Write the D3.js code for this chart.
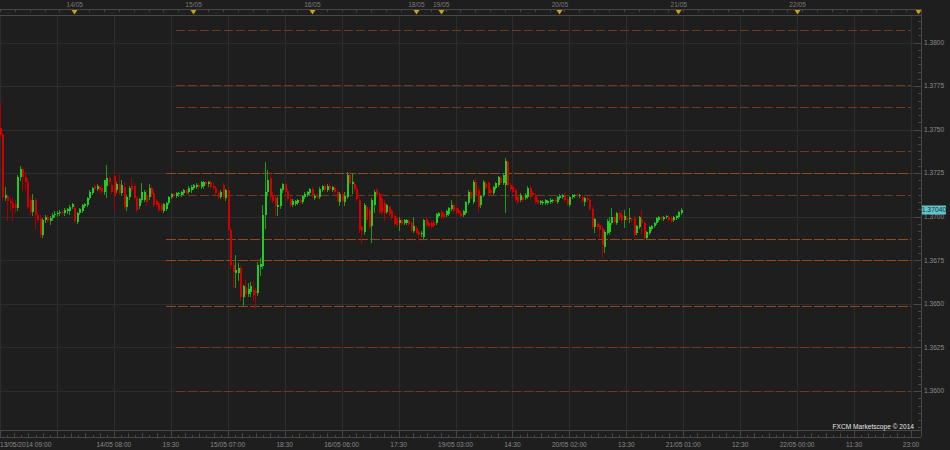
<!DOCTYPE html>
<html>
<head>
<meta charset="utf-8">
<script src="https://cdn.jsdelivr.net/npm/d3@7"></script>
<style>
  html, body { margin: 0; padding: 0; background: #1e1e1e; overflow: hidden; }
  svg { display: block; }
  text { font-family: "Liberation Sans", Arial, sans-serif; }
</style>
</head>
<body>
<svg id="chart" width="950" height="450"></svg>
<script>
// EUR/USD 30 min candles, 13/05/2014 09:00 -> 21/05/2014 01:00
const open = [
  1.37509,1.37469,1.37107,1.37119,1.37090,1.37079,1.37073,1.37050,1.37228,1.37274,
  1.37228,1.37199,1.37096,1.37027,1.37096,1.37010,1.36987,1.36895,1.36981,1.36998,
  1.36975,1.36993,1.37010,1.37015,1.37021,1.37027,1.37021,1.37033,1.37033,1.37056,
  1.37050,1.36970,1.37021,1.37033,1.37061,1.37067,1.37107,1.37136,1.37176,1.37159,
  1.37170,1.37165,1.37142,1.37176,1.37222,1.37182,1.37234,1.37153,1.37188,1.37136,
  1.37170,1.37056,1.37113,1.37176,1.37176,1.37107,1.37061,1.37096,1.37096,1.37125,
  1.37113,1.37165,1.37136,1.37090,1.37079,1.37067,1.37033,1.37044,1.37079,1.37113,
  1.37130,1.37119,1.37130,1.37125,1.37136,1.37153,1.37142,1.37153,1.37165,1.37170,
  1.37182,1.37170,1.37176,1.37199,1.37188,1.37199,1.37176,1.37165,1.37136,1.37113,
  1.37182,1.37107,1.37153,1.36924,1.36723,1.36677,1.36677,1.36706,1.36539,1.36596,
  1.36556,1.36568,1.36579,1.36574,1.36562,1.36711,1.36717,1.37010,1.37142,1.37222,
  1.37125,1.37107,1.37056,1.37061,1.37153,1.37188,1.37148,1.37102,1.37067,1.37073,
  1.37079,1.37096,1.37084,1.37113,1.37125,1.37136,1.37159,1.37107,1.37125,1.37113,
  1.37153,1.37176,1.37153,1.37176,1.37153,1.37165,1.37142,1.37084,1.37130,1.37084,
  1.37113,1.37239,1.37188,1.37188,1.37159,1.37096,1.36941,1.36912,1.37056,1.37038,
  1.36947,1.37067,1.37153,1.37130,1.37107,1.37079,1.37027,1.37056,1.37033,1.37004,
  1.36993,1.36964,1.36981,1.36964,1.36964,1.36975,1.36964,1.36918,1.36935,1.36912,
  1.36901,1.36883,1.36987,1.36964,1.36964,1.36970,1.36964,1.37004,1.37027,1.37015,
  1.37010,1.37015,1.37044,1.37067,1.37050,1.37038,1.37021,1.37010,1.37021,1.37079,
  1.37142,1.37084,1.37199,1.37153,1.37067,1.37125,1.37193,1.37193,1.37153,1.37136,
  1.37165,1.37182,1.37222,1.37193,1.37182,1.37314,1.37182,1.37170,1.37153,1.37113,
  1.37096,1.37113,1.37107,1.37113,1.37165,1.37136,1.37125,1.37096,1.37079,1.37079,
  1.37079,1.37079,1.37084,1.37090,1.37096,1.37084,1.37107,1.37113,1.37125,1.37102,
  1.37067,1.37113,1.37119,1.37125,1.37119,1.37113,1.37084,1.37107,1.37096,1.37044,
  1.36941,1.36958,1.36952,1.36935,1.36826,1.36906,1.36912,1.36964,1.36998,1.36964,
  1.37021,1.37010,1.36981,1.36998,1.36987,1.36987,1.36993,1.36906,1.36941,1.36987,
  1.36964,1.36878,1.36906,1.36929,1.36947,1.36964,1.36981,1.36998,1.36987,1.36998,
  1.36998,1.36993,1.36981,1.36993,1.36998,1.37021
];
const high = [
  1.37653,1.37480,1.37170,1.37136,1.37107,1.37107,1.37096,1.37239,1.37291,1.37285,
  1.37257,1.37222,1.37119,1.37130,1.37107,1.37027,1.37010,1.36993,1.37010,1.37010,
  1.37004,1.37021,1.37033,1.37033,1.37038,1.37038,1.37050,1.37050,1.37067,1.37079,
  1.37067,1.37027,1.37050,1.37073,1.37079,1.37113,1.37153,1.37170,1.37188,1.37188,
  1.37182,1.37182,1.37211,1.37297,1.37234,1.37199,1.37257,1.37199,1.37239,1.37211,
  1.37199,1.37125,1.37176,1.37222,1.37193,1.37119,1.37107,1.37193,1.37153,1.37153,
  1.37188,1.37182,1.37153,1.37102,1.37090,1.37079,1.37079,1.37084,1.37119,1.37136,
  1.37136,1.37142,1.37142,1.37148,1.37159,1.37159,1.37176,1.37182,1.37188,1.37193,
  1.37193,1.37205,1.37205,1.37205,1.37205,1.37211,1.37193,1.37176,1.37148,1.37153,
  1.37193,1.37159,1.37165,1.36935,1.36740,1.36780,1.36734,1.36723,1.36608,1.36637,
  1.36619,1.36625,1.36631,1.36591,1.36740,1.36763,1.37067,1.37314,1.37268,1.37257,
  1.37142,1.37125,1.37113,1.37165,1.37193,1.37199,1.37165,1.37119,1.37102,1.37096,
  1.37102,1.37107,1.37125,1.37142,1.37148,1.37165,1.37170,1.37130,1.37136,1.37170,
  1.37182,1.37188,1.37188,1.37193,1.37176,1.37182,1.37153,1.37142,1.37153,1.37142,
  1.37257,1.37251,1.37251,1.37205,1.37176,1.37113,1.36952,1.37079,1.37067,1.37056,
  1.37107,1.37153,1.37165,1.37142,1.37136,1.37096,1.37073,1.37067,1.37044,1.37015,
  1.37004,1.36998,1.36993,1.36987,1.36987,1.36987,1.36975,1.36998,1.36947,1.36924,
  1.36918,1.36987,1.36998,1.36975,1.36975,1.36981,1.37021,1.37027,1.37038,1.37027,
  1.37038,1.37056,1.37096,1.37079,1.37061,1.37050,1.37033,1.37038,1.37090,1.37153,
  1.37153,1.37211,1.37222,1.37170,1.37125,1.37211,1.37205,1.37205,1.37165,1.37176,
  1.37199,1.37234,1.37234,1.37251,1.37337,1.37325,1.37193,1.37182,1.37165,1.37125,
  1.37136,1.37125,1.37136,1.37176,1.37176,1.37148,1.37136,1.37107,1.37096,1.37096,
  1.37102,1.37096,1.37107,1.37102,1.37107,1.37119,1.37130,1.37130,1.37136,1.37113,
  1.37119,1.37130,1.37130,1.37136,1.37130,1.37125,1.37113,1.37119,1.37107,1.37056,
  1.36993,1.36970,1.36964,1.36947,1.36924,1.36987,1.36998,1.37050,1.37010,1.37027,
  1.37033,1.37038,1.37038,1.37010,1.37050,1.36998,1.37004,1.36952,1.37004,1.37038,
  1.36975,1.36918,1.36947,1.36952,1.36970,1.36998,1.37004,1.37004,1.37004,1.37010,
  1.37010,1.37004,1.37004,1.37010,1.37033,1.37050
];
const low = [
  1.37457,1.37096,1.37096,1.36981,1.37038,1.36981,1.37027,1.37038,1.37211,1.37153,
  1.37153,1.37050,1.37015,1.37010,1.36935,1.36970,1.36883,1.36883,1.36970,1.36970,
  1.36958,1.36981,1.36998,1.37004,1.37010,1.37015,1.37010,1.37021,1.37015,1.37050,
  1.36970,1.36964,1.37015,1.37027,1.37056,1.37061,1.37102,1.37130,1.37153,1.37153,
  1.37142,1.37136,1.37130,1.37113,1.37188,1.37136,1.37038,1.37142,1.37130,1.37125,
  1.37050,1.37038,1.37102,1.37148,1.37102,1.37033,1.37050,1.37084,1.37090,1.37067,
  1.37102,1.37119,1.37061,1.37061,1.37033,1.37033,1.37027,1.37038,1.37073,1.37107,
  1.37113,1.37113,1.37119,1.37119,1.37130,1.37130,1.37136,1.37142,1.37159,1.37165,
  1.37165,1.37165,1.37165,1.37182,1.37176,1.37165,1.37159,1.37130,1.37107,1.37107,
  1.37107,1.37096,1.36918,1.36706,1.36596,1.36596,1.36637,1.36522,1.36493,1.36539,
  1.36545,1.36545,1.36522,1.36476,1.36551,1.36665,1.36706,1.36935,1.37125,1.37096,
  1.37084,1.37010,1.37010,1.37050,1.37142,1.37136,1.37096,1.37061,1.37061,1.37067,
  1.37073,1.37079,1.37079,1.37107,1.37119,1.37130,1.37113,1.37102,1.37107,1.37107,
  1.37148,1.37148,1.37148,1.37153,1.37148,1.37136,1.37084,1.37067,1.37084,1.37067,
  1.37107,1.37188,1.37136,1.37148,1.37096,1.36912,1.36849,1.36901,1.36970,1.36935,
  1.36855,1.37027,1.37119,1.37021,1.37015,1.36981,1.37021,1.37010,1.36987,1.36952,
  1.36947,1.36924,1.36952,1.36958,1.36958,1.36952,1.36918,1.36912,1.36901,1.36866,
  1.36889,1.36878,1.36947,1.36941,1.36935,1.36941,1.36958,1.36998,1.36993,1.36993,
  1.37004,1.37010,1.37038,1.37027,1.37015,1.37015,1.36998,1.37004,1.37015,1.37073,
  1.37102,1.37079,1.37119,1.37027,1.37056,1.37119,1.37159,1.37130,1.37130,1.37130,
  1.37159,1.37176,1.37188,1.37188,1.37027,1.37176,1.37153,1.37136,1.37090,1.37079,
  1.37090,1.37090,1.37102,1.37107,1.37107,1.37119,1.37079,1.37073,1.37073,1.37073,
  1.37073,1.37073,1.37079,1.37084,1.37084,1.37079,1.37102,1.37107,1.37090,1.37067,
  1.37061,1.37107,1.37113,1.37113,1.37113,1.37084,1.37067,1.37090,1.37038,1.36935,
  1.36912,1.36935,1.36883,1.36769,1.36797,1.36901,1.36901,1.36958,1.36964,1.36958,
  1.36987,1.36975,1.36941,1.36975,1.36970,1.36975,1.36889,1.36901,1.36935,1.36906,
  1.36872,1.36872,1.36901,1.36924,1.36941,1.36958,1.36975,1.36981,1.36981,1.36993,
  1.36975,1.36970,1.36975,1.36987,1.36993,1.37015
];
const close = [
  1.37469,1.37113,1.37125,1.37090,1.37079,1.37050,1.37050,1.37228,1.37274,1.37228,
  1.37199,1.37056,1.37027,1.37096,1.37010,1.36981,1.36895,1.36981,1.36998,1.36975,
  1.36993,1.37010,1.37015,1.37021,1.37027,1.37021,1.37038,1.37044,1.37056,1.37073,
  1.36975,1.37021,1.37044,1.37067,1.37073,1.37107,1.37142,1.37165,1.37159,1.37176,
  1.37153,1.37142,1.37211,1.37222,1.37199,1.37142,1.37119,1.37188,1.37136,1.37182,
  1.37056,1.37113,1.37165,1.37153,1.37107,1.37038,1.37102,1.37142,1.37142,1.37084,
  1.37165,1.37130,1.37067,1.37067,1.37038,1.37038,1.37073,1.37079,1.37113,1.37130,
  1.37119,1.37136,1.37136,1.37142,1.37153,1.37136,1.37165,1.37170,1.37182,1.37182,
  1.37170,1.37199,1.37199,1.37188,1.37199,1.37170,1.37165,1.37136,1.37113,1.37142,
  1.37113,1.37153,1.36924,1.36723,1.36683,1.36694,1.36706,1.36539,1.36602,1.36556,
  1.36585,1.36602,1.36551,1.36562,1.36723,1.36728,1.37010,1.37142,1.37211,1.37113,
  1.37090,1.37061,1.37067,1.37159,1.37188,1.37142,1.37102,1.37067,1.37090,1.37090,
  1.37096,1.37084,1.37119,1.37130,1.37142,1.37159,1.37119,1.37119,1.37113,1.37159,
  1.37176,1.37153,1.37176,1.37159,1.37170,1.37142,1.37090,1.37130,1.37090,1.37119,
  1.37239,1.37193,1.37199,1.37159,1.37102,1.36924,1.36918,1.37067,1.36981,1.36941,
  1.37096,1.37142,1.37125,1.37027,1.37021,1.37021,1.37067,1.37015,1.36993,1.36958,
  1.36952,1.36981,1.36958,1.36981,1.36981,1.36958,1.36924,1.36947,1.36906,1.36895,
  1.36906,1.36981,1.36952,1.36947,1.36941,1.36947,1.37015,1.37021,1.36998,1.36998,
  1.37033,1.37050,1.37067,1.37033,1.37021,1.37021,1.37004,1.37033,1.37084,1.37142,
  1.37107,1.37199,1.37125,1.37056,1.37119,1.37199,1.37165,1.37136,1.37136,1.37170,
  1.37193,1.37228,1.37193,1.37239,1.37320,1.37182,1.37159,1.37142,1.37096,1.37084,
  1.37125,1.37096,1.37125,1.37165,1.37113,1.37125,1.37084,1.37079,1.37090,1.37084,
  1.37096,1.37090,1.37096,1.37096,1.37090,1.37113,1.37119,1.37125,1.37096,1.37073,
  1.37113,1.37125,1.37125,1.37119,1.37125,1.37090,1.37107,1.37096,1.37044,1.36941,
  1.36987,1.36941,1.36924,1.36838,1.36912,1.36975,1.36964,1.36998,1.36970,1.37021,
  1.36993,1.36981,1.37004,1.36981,1.36993,1.36981,1.36895,1.36947,1.36998,1.36964,
  1.36878,1.36912,1.36941,1.36947,1.36964,1.36993,1.36998,1.36987,1.36998,1.37004,
  1.36981,1.36975,1.36998,1.37004,1.37027,1.37040
];

// price axis ticks
const priceTicks = [1.3600, 1.3625, 1.3650, 1.3675, 1.3700, 1.3725, 1.3750, 1.3775, 1.3800];

// bottom axis: bar index -> label (every 23 bars)
const timeTicks = [0, 23, 46, 69, 92, 115, 138, 161, 184, 207, 230, 253, 276, 299, 322, 345, 368];
const timeLabels = ['13/05/2014 09:00', '', '14/05 08:00', '19:30', '15/05 07:00', '18:30',
  '16/05 06:00', '17:30', '19/05 03:00', '14:30', '20/05 02:00', '13:30', '21/05 01:00',
  '12:30', '22/05 00:00', '11:30', '23:00'];

// top axis: day separators
const dayTicks = [30, 78, 126, 168, 178, 226, 274, 322, 371];
const dayLabels = ['14/05', '15/05', '16/05', '18/05', '19/05', '20/05', '21/05', '22/05', ''];

// pivot levels (dashed), start bar and strength
const levels = [1.3807, 1.37757, 1.3763, 1.3738, 1.3725, 1.37125, 1.36875, 1.3675, 1.3649, 1.3625, 1.3600];
const levelStart = [71, 71, 71, 71, 67, 71, 67, 67, 67, 71, 71];
const levelStrong = [0, 0, 0, 0, 1, 0, 1, 1, 1, 0, 0];

const lastPrice = 1.37040;

const W = 950, H = 450;
const plotTop = 16, plotBottom = 430, axisX = 921;

const x = d3.scaleLinear().domain([0, 368]).range([0, 911]);
const y = d3.scaleLinear().domain([1.36, 1.38]).range([391, 42.5]);

const svg = d3.select('#chart');
svg.append('rect').attr('width', W).attr('height', H).attr('fill', '#1e1e1e');

const px = v => Math.round(v) + 0.5;

// grid
const grid = svg.append('g').attr('shape-rendering', 'crispEdges').attr('stroke', '#2d2d2d');
grid.selectAll('.vg').data(timeTicks).enter().append('line')
  .attr('x1', d => px(x(d))).attr('x2', d => px(x(d)))
  .attr('y1', plotTop).attr('y2', plotBottom);
grid.selectAll('.hg').data(priceTicks).enter().append('line')
  .attr('x1', 0).attr('x2', axisX)
  .attr('y1', d => px(y(d))).attr('y2', d => px(y(d)));

// pivot levels
svg.append('g').selectAll('line').data(levels).enter().append('line')
  .attr('x1', (d, i) => x(levelStart[i])).attr('x2', x(368))
  .attr('y1', d => px(y(d))).attr('y2', d => px(y(d)))
  .attr('stroke', (d, i) => levelStrong[i] ? '#93481f' : '#6f3b1f')
  .attr('stroke-width', 1)
  .attr('stroke-dasharray', (d, i) => levelStrong[i] ? '10,2' : '9,3')
  .attr('shape-rendering', 'crispEdges');

// candles
svg.append('clipPath').attr('id', 'plot').append('rect')
  .attr('x', 0).attr('y', plotTop).attr('width', axisX).attr('height', plotBottom - plotTop);
const bars = d3.range(close.length).map(i => ({ i, o: open[i], h: high[i], l: low[i], c: close[i] }));
const cg = svg.append('g').attr('clip-path', 'url(#plot)').attr('shape-rendering', 'crispEdges');
const candle = cg.selectAll('g').data(bars).enter().append('g');
candle.append('line')
  .attr('x1', d => px(x(d.i))).attr('x2', d => px(x(d.i)))
  .attr('y1', d => Math.round(y(d.h))).attr('y2', d => Math.round(y(d.l)) + 1)
  .attr('stroke', d => d.c >= d.o ? '#15a015' : '#a80000');
candle.append('rect')
  .attr('x', d => Math.round(x(d.i)))
  .attr('width', 2)
  .attr('y', d => Math.round(y(Math.max(d.o, d.c))))
  .attr('height', d => Math.max(1, Math.round(y(Math.min(d.o, d.c))) - Math.round(y(Math.max(d.o, d.c)))))
  .attr('fill', d => d.c >= d.o ? '#1fcc1f' : '#d40000');

// bottom axis
const bax = svg.append('g').attr('shape-rendering', 'crispEdges').attr('stroke', '#474747');
bax.append('line').attr('x1', 0).attr('x2', axisX).attr('y1', 430.5).attr('y2', 430.5);
bax.append('line').attr('x1', 0).attr('x2', axisX).attr('y1', 437.5).attr('y2', 437.5);
bax.selectAll('.mj').data(timeTicks).enter().append('line')
  .attr('x1', d => px(x(d))).attr('x2', d => px(x(d))).attr('y1', 430).attr('y2', 437);
const minorT = [];
timeTicks.slice(0, -1).forEach(t => { for (let j = 1; j < 8; j++) minorT.push({ v: t + j * 23 / 8, tall: j % 2 === 0 }); });
bax.selectAll('.mn').data(minorT).enter().append('line')
  .attr('x1', d => px(x(d.v))).attr('x2', d => px(x(d.v)))
  .attr('y1', d => d.tall ? 433 : 435).attr('y2', 437);
svg.append('g').selectAll('text').data(timeTicks).enter().append('text')
  .attr('x', (d, i) => i === 0 ? 0 : x(d))
  .attr('y', 446.5)
  .attr('text-anchor', (d, i) => i === 0 ? 'start' : 'middle')
  .attr('fill', '#8a8a8a').attr('font-size', '6.6px')
  .text((d, i) => timeLabels[i]);

// top axis
const tax = svg.append('g').attr('shape-rendering', 'crispEdges').attr('stroke', '#474747');
tax.append('line').attr('x1', 0).attr('x2', axisX).attr('y1', 9.5).attr('y2', 9.5);
tax.append('line').attr('x1', 0).attr('x2', axisX).attr('y1', 15.5).attr('y2', 15.5);
tax.selectAll('.tk').data(d3.range(0, 372, 6)).enter().append('line')
  .attr('x1', d => px(x(d))).attr('x2', d => px(x(d))).attr('y1', 9.5).attr('y2', 12);
svg.append('g').selectAll('path').data(dayTicks).enter().append('path')
  .attr('d', d => { const cx = Math.round(x(d)) + 0.5; return `M${cx - 3},10 L${cx + 3},10 L${cx},14.5 Z`; })
  .attr('fill', '#c9a020');
svg.append('g').selectAll('text').data(dayTicks).enter().append('text')
  .attr('x', d => x(d) + 0.5).attr('y', 7)
  .attr('text-anchor', 'middle')
  .attr('fill', '#7c7c7c').attr('font-size', '6.6px')
  .text((d, i) => dayLabels[i]);

// right price axis
const rax = svg.append('g').attr('shape-rendering', 'crispEdges').attr('stroke', '#474747');
rax.append('line').attr('x1', axisX + 0.5).attr('x2', axisX + 0.5).attr('y1', 9).attr('y2', 437);
rax.selectAll('.mj').data(priceTicks).enter().append('line')
  .attr('x1', axisX - 7).attr('x2', axisX)
  .attr('y1', d => px(y(d))).attr('y2', d => px(y(d)));
const minorP = [];
for (let k = -1; k < priceTicks.length; k++) {
  const base = k < 0 ? 1.3575 : priceTicks[k];
  for (let j = 1; j < 6; j++) minorP.push(base + j * 0.0025 / 6);
}
rax.selectAll('.mn').data(minorP.filter(v => y(v) > plotTop && y(v) < 437)).enter().append('line')
  .attr('x1', axisX - 3).attr('x2', axisX)
  .attr('y1', d => px(y(d))).attr('y2', d => px(y(d)));
svg.append('g').selectAll('text').data(priceTicks).enter().append('text')
  .attr('x', 924).attr('y', d => y(d)).attr('dy', '0.35em')
  .attr('fill', '#8a8a8a').attr('font-size', '6.6px')
  .text(d => d3.format('.4f')(d));

// last price label
const lp = svg.append('g');
lp.append('rect').attr('x', 922).attr('y', Math.round(y(lastPrice)) - 4.5)
  .attr('width', 24).attr('height', 9).attr('fill', '#62c3cb');
lp.append('text').attr('x', 934).attr('y', y(lastPrice)).attr('dy', '0.35em')
  .attr('text-anchor', 'middle').attr('fill', '#10303a').attr('font-size', '6.8px')
  .text(d3.format('.5f')(lastPrice));

// watermark
svg.append('text').attr('x', 914).attr('y', 429)
  .attr('text-anchor', 'end').attr('fill', '#e6e6e6').attr('font-size', '6.6px')
  .text('FXCM Marketscope \u00a9 2014');
</script>
</body>
</html>
